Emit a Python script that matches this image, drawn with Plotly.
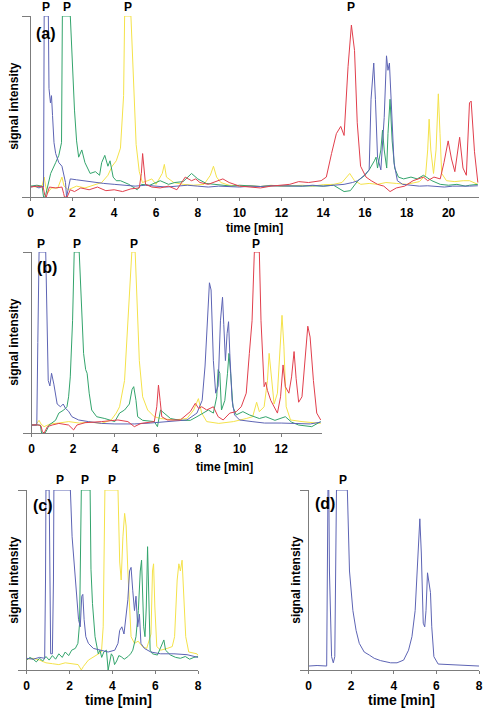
import plotly.graph_objects as go

# ---------------- data (time [min], relative signal) ----------------
A_T_BLUE = [0, 0.2, 0.4, 0.55, 0.62, 0.65, 0.85, 0.88, 0.95, 1.0, 1.05, 1.12, 1.2, 1.35, 1.5, 1.6, 1.67, 1.72, 1.8, 1.9,
            2.2, 2.5, 3.0, 3.5, 4.0, 4.5, 5.0, 5.5, 6.0, 6.5, 7.0, 7.5, 8.0, 8.5, 9.0, 9.5, 10.0, 10.5, 11.0, 11.5,
            12.0, 12.5, 13.0, 13.5, 14.0, 14.5, 15.0, 15.4, 15.66, 15.97, 16.2, 16.29, 16.42, 16.5, 16.6, 16.76,
            16.92, 17.03, 17.1, 17.17, 17.3, 17.39, 17.55, 17.8, 18.2, 18.6, 19.0, 19.4, 19.8, 20.2, 20.6, 21.0, 21.4]
A_S_BLUE = [0.055, 0.06, 0.05, 0.058, 0.055, 1.0, 1.0, 0.6, 0.52, 0.56, 0.45, 0.3, 0.24, 0.19, 0.17, 0.12, 0.08, 0.0,
            0.04, 0.1, 0.095, 0.09, 0.085, 0.075, 0.07, 0.065, 0.06, 0.065, 0.06, 0.055, 0.06, 0.065, 0.06, 0.055,
            0.06, 0.058, 0.055, 0.06, 0.058, 0.062, 0.06, 0.058, 0.06, 0.065, 0.06, 0.065, 0.07, 0.08, 0.09, 0.12,
            0.15, 0.54, 0.74, 0.54, 0.22, 0.15, 0.44, 0.78, 0.7, 0.74, 0.44, 0.19, 0.09, 0.07, 0.065, 0.06, 0.062,
            0.058, 0.055, 0.06, 0.058, 0.06, 0.062]

A_T_GREEN = [0, 0.3, 0.55, 0.62, 0.7, 0.8, 0.96, 1.2, 1.35, 1.48, 1.52, 1.9, 1.98, 2.02, 2.1, 2.2, 2.3, 2.45, 2.6,
             2.85, 3.1, 3.3, 3.4, 3.55, 3.7, 3.8, 3.95, 4.1, 4.3, 4.7, 5.1, 5.3, 5.7, 6.2, 6.6, 6.9, 7.3, 7.7, 8.0,
             8.4, 8.8, 9.2, 9.6, 10.0, 10.5, 11.0, 11.5, 12.0, 12.5, 13.0, 13.5, 14.0, 14.5, 15.0, 15.3, 15.66, 16.0,
             16.2, 16.45, 16.53, 16.6, 16.76, 16.84, 16.92, 17.04, 17.1, 17.2, 17.3, 17.42, 17.6, 17.85, 18.2, 18.5,
             18.8, 19.2, 19.6, 20.0, 20.4, 20.8, 21.0, 21.4]
A_S_GREEN = [0.06, 0.065, 0.06, 0.0, 0.0, 0.05, 0.13, 0.19, 0.23, 0.3, 1.0, 1.0, 0.77, 0.72, 0.48, 0.31, 0.22, 0.26,
             0.19, 0.13, 0.14, 0.12, 0.19, 0.23, 0.17, 0.2, 0.11, 0.09, 0.09, 0.07, 0.04, 0.07, 0.065, 0.09, 0.07,
             0.08, 0.085, 0.13, 0.1, 0.075, 0.07, 0.065, 0.06, 0.065, 0.06, 0.058, 0.062, 0.06, 0.058, 0.06, 0.062,
             0.06, 0.065, 0.03, 0.035, 0.09, 0.12, 0.15, 0.2, 0.22, 0.16, 0.26, 0.37, 0.26, 0.16, 0.35, 0.54, 0.31,
             0.16, 0.11, 0.1, 0.11, 0.1, 0.12, 0.09, 0.07, 0.065, 0.07, 0.06, 0.065, 0.07]

A_T_YELLOW = [0, 0.3, 0.55, 0.65, 0.72, 0.8, 1.0, 1.3, 1.5, 1.6, 1.8, 2.2, 2.6, 3.0, 3.4, 3.7, 3.9, 4.1, 4.3, 4.45,
              4.5, 4.8, 4.95, 5.05, 5.2, 5.35, 5.6, 5.8, 6.0, 6.3, 6.4, 6.5, 6.85, 7.3, 7.8, 8.3, 8.6, 8.75, 8.9,
              9.1, 9.5, 10.0, 10.5, 11.0, 11.5, 12.0, 12.5, 13.0, 13.5, 14.0, 14.5, 14.9, 15.27, 15.5, 15.8, 16.2,
              16.6, 17.0, 17.5, 18.0, 18.6, 18.9, 19.0, 19.07, 19.15, 19.28, 19.4, 19.51, 19.59, 19.67, 19.9, 20.3,
              20.7, 21.0, 21.4]
A_S_YELLOW = [0.06, 0.055, 0.06, 0.11, 0.06, 0.02, 0.05, 0.05, 0.11, 0.06, 0.04, 0.06, 0.05, 0.065, 0.08, 0.12,
              0.17, 0.2, 0.27, 0.56, 1.0, 1.0, 0.52, 0.29, 0.14, 0.08, 0.09, 0.1, 0.07, 0.13, 0.18, 0.11, 0.08, 0.07,
              0.065, 0.07, 0.12, 0.17, 0.11, 0.08, 0.065, 0.06, 0.062, 0.058, 0.065, 0.06, 0.062, 0.065, 0.06, 0.068,
              0.07, 0.08, 0.13, 0.09, 0.07, 0.075, 0.07, 0.08, 0.075, 0.07, 0.085, 0.12, 0.26, 0.43, 0.26, 0.13,
              0.26, 0.57, 0.35, 0.13, 0.09, 0.085, 0.09, 0.09, 0.07]

A_T_RED = [0, 0.3, 0.6, 0.68, 0.75, 0.85, 0.9, 1.2, 1.5, 1.58, 1.62, 1.75, 1.9, 2.1, 2.4, 2.8, 3.2, 3.6, 4.0, 4.4,
           4.8, 5.2, 5.3, 5.36, 5.42, 5.5, 5.8, 6.2, 6.6, 7.0, 7.4, 7.7, 7.9, 8.1, 8.5, 8.9, 9.2, 9.5, 10.0, 10.5,
           11.0, 11.5, 12.0, 12.4, 12.83, 13.3, 13.9, 14.15, 14.4, 14.63, 14.84, 15.0, 15.19, 15.35, 15.5, 15.63,
           15.79, 16.05, 16.3, 16.6, 16.9, 17.2, 17.5, 17.9, 18.3, 18.8, 19.0, 19.3, 19.6, 19.78, 19.98, 20.14,
           20.3, 20.46, 20.53, 20.69, 20.85, 21.0, 21.08, 21.24, 21.4]
A_S_RED = [0.055, 0.06, 0.055, 0.01, 0.0, 0.04, 0.055, 0.05, 0.055, 0.02, 0.0, 0.0, 0.04, 0.03, 0.05, 0.04, 0.055,
           0.035, 0.04, 0.03, 0.045, 0.05, 0.13, 0.24, 0.15, 0.07, 0.055, 0.05, 0.06, 0.04, 0.11, 0.09, 0.1, 0.08,
           0.07, 0.085, 0.1, 0.08, 0.06, 0.055, 0.05, 0.06, 0.065, 0.07, 0.085, 0.08, 0.09, 0.11, 0.24, 0.35, 0.39,
           0.34, 0.72, 0.95, 0.81, 0.41, 0.17, 0.11, 0.09, 0.07, 0.06, 0.03, 0.05, 0.06, 0.09, 0.11, 0.09, 0.11,
           0.1, 0.19, 0.31, 0.21, 0.14, 0.27, 0.33, 0.16, 0.12, 0.52, 0.53, 0.25, 0.08]

B_T_BLUE = [0, 0.15, 0.25, 0.3, 0.36, 0.68, 0.8, 0.88, 0.96, 1.07, 1.23, 1.39, 1.52, 1.63, 1.78, 1.94, 2.26, 2.73,
            3.36, 4.0, 4.94, 5.7, 6.5, 7.0, 7.47, 7.95, 8.2, 8.34, 8.45, 8.55, 8.63, 8.74, 8.85, 8.97, 9.08, 9.18,
            9.24, 9.32, 9.4, 9.47, 9.53, 9.64, 9.76, 10.0, 10.6, 11.2, 12.0, 12.8, 13.4, 13.9]
B_S_BLUE = [0.044, 0.045, 0.044, 0.5, 1.0, 1.0, 0.29, 0.26, 0.33, 0.27, 0.16, 0.145, 0.16, 0.136, 0.12, 0.09,
            0.072, 0.063, 0.053, 0.05, 0.05, 0.055, 0.063, 0.065, 0.072, 0.11, 0.18, 0.37, 0.62, 0.83, 0.79, 0.4,
            0.22, 0.26, 0.62, 0.75, 0.6, 0.4, 0.55, 0.615, 0.44, 0.18, 0.1, 0.072, 0.063, 0.055, 0.055, 0.05, 0.05,
            0.06]

B_T_GREEN = [0, 0.3, 0.42, 0.48, 0.65, 0.75, 0.84, 1.15, 1.31, 1.55, 1.7, 1.78, 1.86, 1.97, 2.05, 2.29, 2.39, 2.5,
             2.6, 2.67, 2.77, 2.89, 3.13, 3.52, 4.0, 4.23, 4.47, 4.7, 4.83, 4.91, 5.02, 5.1, 5.34, 5.9, 6.05, 6.2,
             6.37, 6.68, 7.15, 7.63, 7.95, 8.26, 8.5, 8.74, 8.9, 8.97, 9.05, 9.13, 9.29, 9.42, 9.49, 9.57, 9.68,
             9.84, 10.16, 10.47, 10.95, 11.26, 11.7, 12.2, 12.5, 12.84, 13.47, 13.9]
B_S_GREEN = [0.044, 0.045, 0.044, 0.0, 0.0, 0.02, 0.044, 0.07, 0.11, 0.127, 0.145, 0.2, 0.31, 0.62, 1.0, 1.0, 0.72,
             0.44, 0.35, 0.33, 0.22, 0.127, 0.09, 0.08, 0.063, 0.11, 0.127, 0.16, 0.24, 0.256, 0.18, 0.09, 0.07,
             0.063, 0.035, 0.127, 0.11, 0.08, 0.07, 0.07, 0.09, 0.11, 0.127, 0.11, 0.2, 0.35, 0.33, 0.127, 0.18,
             0.33, 0.44, 0.33, 0.145, 0.1, 0.118, 0.1, 0.08, 0.09, 0.07, 0.09, 0.06, 0.044, 0.035, 0.063]

B_T_YELLOW = [0, 0.2, 0.36, 0.45, 0.6, 0.9, 1.3, 1.78, 2.3, 2.8, 3.36, 3.83, 4.07, 4.23, 4.47, 4.63, 4.76, 4.82,
              4.98, 5.07, 5.18, 5.34, 5.58, 5.9, 6.2, 6.84, 7.47, 7.79, 8.02, 8.18, 8.42, 9.0, 9.7, 10.32, 10.63,
              10.82, 10.95, 11.18, 11.34, 11.42, 11.52, 11.66, 11.82, 11.97, 12.04, 12.13, 12.24, 12.45, 13.0, 13.9]
B_S_YELLOW = [0.044, 0.045, 0.07, 0.05, 0.035, 0.05, 0.055, 0.063, 0.055, 0.06, 0.053, 0.072, 0.11, 0.145, 0.29,
              0.62, 0.9, 1.0, 1.0, 0.72, 0.4, 0.2, 0.127, 0.09, 0.08, 0.072, 0.08, 0.127, 0.19, 0.11, 0.063, 0.053,
              0.063, 0.08, 0.09, 0.17, 0.118, 0.145, 0.29, 0.44, 0.31, 0.16, 0.22, 0.57, 0.65, 0.48, 0.145, 0.072,
              0.063, 0.053]

B_T_RED = [0, 0.3, 0.45, 0.52, 0.6, 0.76, 0.99, 1.31, 1.78, 2.02, 2.18, 2.57, 3.36, 4.15, 4.63, 4.94, 5.26, 5.9,
           6.02, 6.1, 6.18, 6.26, 6.52, 7.15, 7.63, 7.87, 8.03, 8.18, 8.42, 8.74, 8.97, 9.21, 9.53, 9.84, 10.08,
           10.32, 10.47, 10.6, 10.71, 10.95, 11.03, 11.11, 11.18, 11.26, 11.34, 11.5, 11.66, 11.82, 11.97, 12.09,
           12.2, 12.37, 12.5, 12.62, 12.72, 12.84, 13.0, 13.16, 13.28, 13.39, 13.55, 13.71, 13.9]
B_S_RED = [0.044, 0.045, 0.04, 0.008, 0.0, 0.035, 0.044, 0.053, 0.044, 0.017, 0.044, 0.057, 0.063, 0.072, 0.063,
           0.035, 0.053, 0.063, 0.145, 0.265, 0.18, 0.09, 0.072, 0.072, 0.118, 0.164, 0.136, 0.145, 0.127, 0.145,
           0.09, 0.072, 0.11, 0.118, 0.145, 0.22, 0.44, 0.62, 1.0, 1.0, 0.62, 0.4, 0.256, 0.28, 0.235, 0.18, 0.145,
           0.11, 0.2, 0.376, 0.256, 0.22, 0.31, 0.45, 0.3, 0.17, 0.2, 0.44, 0.59, 0.53, 0.29, 0.11, 0.072]

C_T_BLUE = [0, 0.3, 0.6, 0.84, 0.88, 0.9, 1.05, 1.08, 1.12, 1.2, 1.25, 1.27, 2.04, 2.12, 2.24, 2.35, 2.42, 2.5, 2.57,
            2.62, 2.68, 2.76, 2.88, 3.11, 3.49, 3.8, 4.11, 4.26, 4.34, 4.44, 4.54, 4.64, 4.72, 4.8, 4.87, 4.95, 5.03,
            5.1, 5.18, 5.26, 5.33, 5.49, 5.79, 6.25, 6.87, 7.48, 7.94, 8.0]
C_S_BLUE = [0.065, 0.06, 0.07, 0.065, 0.5, 1.0, 1.0, 0.5, 0.09, 0.09, 0.5, 1.0, 1.0, 0.74, 0.56, 0.37, 0.28, 0.24,
            0.41, 0.42, 0.28, 0.185, 0.148, 0.12, 0.11, 0.1, 0.11, 0.148, 0.22, 0.24, 0.2, 0.33, 0.39, 0.55, 0.57,
            0.44, 0.33, 0.41, 0.24, 0.31, 0.148, 0.12, 0.1, 0.09, 0.09, 0.085, 0.074, 0.07]

C_T_GREEN = [0, 0.15, 0.3, 0.45, 0.6, 0.75, 0.9, 1.05, 1.2, 1.35, 1.5, 1.66, 1.8, 1.96, 2.1, 2.27, 2.39, 2.47, 2.55,
             2.96, 3.0, 3.07, 3.19, 3.34, 3.42, 3.5, 3.6, 3.72, 3.8, 3.88, 3.95, 4.03, 4.1, 4.2, 4.3, 4.41, 4.55,
             4.72, 4.85, 4.95, 5.1, 5.21, 5.3, 5.36, 5.41, 5.46, 5.52, 5.58, 5.64, 5.7, 5.76, 5.87, 6.1, 6.4, 6.48,
             6.71, 6.95, 7.17, 7.4, 7.6, 7.8, 8.0]
C_S_GREEN = [0.055, 0.07, 0.06, 0.045, 0.065, 0.05, 0.075, 0.055, 0.08, 0.06, 0.09, 0.07, 0.1, 0.08, 0.11, 0.12,
             0.148, 0.26, 1.0, 1.0, 0.56, 0.37, 0.185, 0.09, 0.11, 0.07, 0.1, 0.11, 0.0, 0.06, 0.09, 0.074, 0.03,
             0.05, 0.08, 0.074, 0.06, 0.074, 0.09, 0.11, 0.185, 0.33, 0.55, 0.61, 0.46, 0.24, 0.185, 0.35, 0.685,
             0.35, 0.11, 0.09, 0.083, 0.167, 0.11, 0.083, 0.07, 0.065, 0.075, 0.06, 0.07, 0.075]

C_T_YELLOW = [0, 0.3, 0.6, 0.9, 1.2, 1.5, 1.8, 2.1, 2.4, 2.55, 2.65, 2.88, 3.1, 3.34, 3.49, 3.57, 3.65, 4.26, 4.29,
              4.34, 4.41, 4.49, 4.57, 4.64, 4.72, 4.77, 4.87, 5.03, 5.2, 5.4, 5.6, 5.8, 5.87, 5.92, 5.98, 6.07, 6.25,
              6.56, 6.79, 6.9, 7.02, 7.1, 7.17, 7.25, 7.33, 7.42, 7.56, 7.94, 8.0]
C_S_YELLOW = [0.06, 0.065, 0.055, 0.04, 0.035, 0.03, 0.04, 0.035, 0.03, 0.0, 0.02, 0.055, 0.07, 0.09, 0.1, 0.24, 1.0,
              1.0, 0.74, 0.6, 0.5, 0.74, 0.87, 0.8, 0.55, 0.4, 0.185, 0.148, 0.16, 0.13, 0.12, 0.2, 0.55, 0.59, 0.35,
              0.13, 0.11, 0.12, 0.13, 0.185, 0.5, 0.59, 0.55, 0.61, 0.4, 0.185, 0.1, 0.09, 0.08]

D_T_BLUE = [0, 0.4, 0.85, 0.88, 0.91, 0.95, 0.98, 1.08, 1.16, 1.23, 1.28, 1.31, 1.82, 1.92, 2.08, 2.23, 2.38, 2.61,
            2.85, 3.08, 3.38, 3.85, 4.15, 4.46, 4.69, 4.85, 5.0, 5.12, 5.22, 5.29, 5.38, 5.45, 5.51, 5.58, 5.66, 5.72,
            5.78, 5.88, 6.08, 6.77, 7.4, 8.0]
D_S_BLUE = [0.022, 0.025, 0.022, 0.55, 1.0, 1.0, 0.55, 0.074, 0.04, 0.074, 0.55, 1.0, 1.0, 0.55, 0.33, 0.22, 0.148,
            0.1, 0.083, 0.065, 0.052, 0.04, 0.04, 0.055, 0.11, 0.185, 0.33, 0.65, 0.84, 0.65, 0.26, 0.24, 0.33, 0.54,
            0.48, 0.43, 0.24, 0.074, 0.033, 0.03, 0.025, 0.022]

X_TICKS_A = [0, 2, 4, 6, 8, 10, 12, 14, 16, 18, 20]
X_TICKS_B = [0, 2, 4, 6, 8, 10, 12]
X_TICKS_CD = [0, 2, 4, 6, 8]
P_A = [0.72, 1.75, 4.67, 15.33]
P_B = [0.47, 2.18, 4.93, 10.8]
P_C = [1.56, 2.71, 3.98]
P_D = [1.6]

# ---------------- styling ----------------
W, H = 489, 712
BLUE, GREEN, YELLOW, RED = "#5d64b4", "#33a46c", "#f4e24a", "#e13f4c"
AX = "#7c7c7c"
FONT = "Liberation Sans"


def px(x):
    return x / W


def py(y):
    return 1 - y / H


panels = {
    # name: (x-left, x-right, y-top, y-bottom) in window pixels, x range max, ticks
    "1": (28, 483, 16, 197, 21.46, X_TICKS_A),
    "2": (29, 324, 252, 433, 13.98, X_TICKS_B),
    "3": (24, 198, 490, 670, 8.0, X_TICKS_CD),
    "4": (310, 483, 490, 670, 8.0, X_TICKS_CD),
}

fig = go.Figure()

series = [
    ("1", A_T_BLUE, A_S_BLUE, BLUE), ("1", A_T_GREEN, A_S_GREEN, GREEN),
    ("1", A_T_YELLOW, A_S_YELLOW, YELLOW), ("1", A_T_RED, A_S_RED, RED),
    ("2", B_T_BLUE, B_S_BLUE, BLUE), ("2", B_T_GREEN, B_S_GREEN, GREEN),
    ("2", B_T_YELLOW, B_S_YELLOW, YELLOW), ("2", B_T_RED, B_S_RED, RED),
    ("3", C_T_BLUE, C_S_BLUE, BLUE), ("3", C_T_GREEN, C_S_GREEN, GREEN),
    ("3", C_T_YELLOW, C_S_YELLOW, YELLOW),
    ("4", D_T_BLUE, D_S_BLUE, BLUE),
]
order = {YELLOW: 0, GREEN: 1, BLUE: 2, RED: 3}
for k, t, s, c in sorted(series, key=lambda r: order[r[3]]):
    assert len(t) == len(s), (k, c, len(t), len(s))
    suf = "" if k == "1" else k
    fig.add_trace(go.Scatter(x=t, y=s, mode="lines", line=dict(color=c, width=1),
                             xaxis="x" + suf, yaxis="y" + suf, showlegend=False, hoverinfo="skip"))

layout = dict(width=W, height=H, margin=dict(l=0, r=0, t=0, b=0),
              paper_bgcolor="white", plot_bgcolor="white", showlegend=False)
for k, (xl, xr, yt, yb, xmax, ticks) in panels.items():
    suf = "" if k == "1" else k
    layout["xaxis" + suf] = dict(
        domain=[px(xl), px(xr)], range=[0, xmax], anchor="y" + suf,
        showgrid=False, zeroline=False, showline=True, linecolor=AX, linewidth=1,
        ticks="outside", ticklen=3, tickcolor=AX, tickvals=ticks,
        tickfont=dict(family=FONT, size=12, color="black", weight="bold"),
        ticklabelstandoff=2)
    layout["yaxis" + suf] = dict(
        domain=[py(yb), py(yt)], range=[0, 1.0], anchor="x" + suf,
        showgrid=False, zeroline=False, showline=True, linecolor=AX, linewidth=1,
        ticks="outside", ticklen=8, tickcolor=AX, tickvals=[0, 1.0], showticklabels=False)

ann = []
bold = lambda size: dict(family=FONT, size=size, color="black", weight="bold")
for k, plist, ytop in (("", P_A, 7), ("2", P_B, 244), ("3", P_C, 480), ("4", P_D, 480)):
    for p in plist:
        ann.append(dict(x=p, y=py(ytop), xref="x" + k, yref="paper", text="P", showarrow=False,
                        font=bold(12), xanchor="center", yanchor="middle"))
for lab, x0, y0 in (("(a)", 44, 33), ("(b)", 45, 267), ("(c)", 41, 505), ("(d)", 327, 503)):
    ann.append(dict(x=px(x0), y=py(y0), xref="paper", yref="paper", text=lab, showarrow=False,
                    font=bold(16), xanchor="center", yanchor="middle"))
for x0, y0, size in ((255, 228, 12), (225, 467, 12), (117, 700, 14), (404, 700, 14)):
    ann.append(dict(x=px(x0), y=py(y0), xref="paper", yref="paper", text="time [min]", showarrow=False,
                    font=bold(size), xanchor="center", yanchor="middle"))
for x0, y0 in ((11, 106), (11, 342), (11, 580), (297, 580)):
    ann.append(dict(x=px(x0), y=py(y0), xref="paper", yref="paper", text="signal intensity", showarrow=False,
                    font=bold(12), textangle=-90, xanchor="center", yanchor="middle"))
layout["annotations"] = ann

fig.update_layout(**layout)
# let the figure sit flush with the window corner (no default 8px page margin), no mode bar
fig.write_html("out.html", config={"displayModeBar": False},
               post_script="document.body.style.margin='0';")
